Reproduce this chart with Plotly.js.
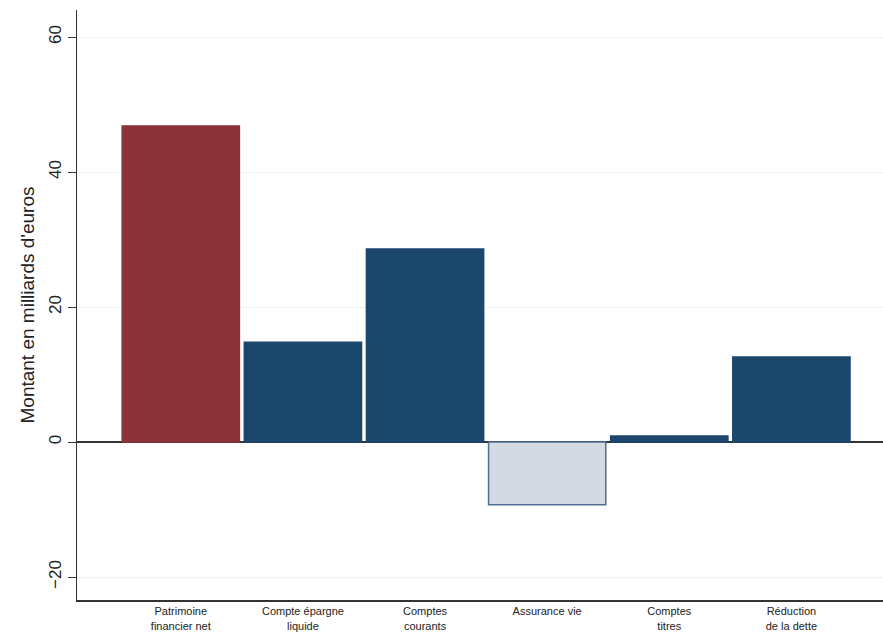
<!DOCTYPE html>
<html>
<head>
<meta charset="utf-8">
<script src="https://cdn.plot.ly/plotly-3.0.1.min.js"></script>
<style>body{margin:0;background:#fff}#chart{width:883px;height:635px}</style>
</head>
<body>
<div id="chart"></div>
<script>
var categories = ["Patrimoine<br>financier net", "Compte épargne<br>liquide", "Comptes<br>courants",
                  "Assurance vie", "Comptes<br>titres", "Réduction<br>de la dette"];
var values = [46.8, 14.8, 28.6, -9.3, 0.9, 12.6];
var fills = ["#8b323a", "#1c476d", "#1c476d", "#d3dae3", "#1c476d", "#1c476d"];
var outlines = ["#8b323a", "#1c476d", "#1c476d", "#4f6f90", "#1c476d", "#1c476d"];

var xs = categories.map(function(c, i) { return i; });

Plotly.newPlot('chart', [{
    type: 'bar',
    x: xs,
    y: values,
    width: 0.96,
    marker: {color: fills, line: {color: outlines, width: 1.5}},
    hoverinfo: 'y'
}], {
    width: 883, height: 635,
    margin: {l: 77, r: 0, t: 10, b: 35},
    paper_bgcolor: '#fff', plot_bgcolor: '#fff',
    font: {family: 'Liberation Sans, Arial, sans-serif', color: '#222'},
    showlegend: false,
    bargap: 0,
    xaxis: {
        range: [-0.85, 5.75],
        tickmode: 'array', tickvals: xs, ticktext: categories,
        tickfont: {size: 11}, ticks: '',
        showline: true, linecolor: '#333', linewidth: 2,
        showgrid: false, zeroline: false, fixedrange: true
    },
    yaxis: {
        range: [-23.4, 64],
        tickvals: [-20, 0, 20, 40, 60],
        tickangle: -90,
        tickfont: {size: 17},
        ticks: 'outside', ticklen: 8, tickcolor: '#333',
        showline: true, linecolor: '#333', linewidth: 1.5,
        showgrid: true, gridcolor: '#eef2f4',
        zeroline: true, zerolinecolor: '#333', zerolinewidth: 1.5,
        title: {text: "Montant en milliards d'euros", font: {size: 19}, standoff: 6}
    }
}, {displayModeBar: false, staticPlot: true});
</script>
</body>
</html>
